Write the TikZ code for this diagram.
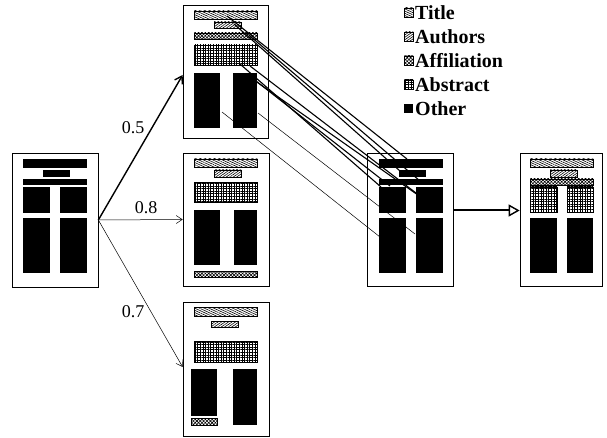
\documentclass[tikz,border=0pt]{standalone}
\usepackage{fontspec}
\setmainfont{Liberation Serif}
\usetikzlibrary{patterns,patterns.meta,arrows.meta}

\tikzset{
  page/.style={draw, line width=0.7pt, minimum width=86pt, minimum height=134pt, inner sep=0pt},
  titlefill/.style={draw, line width=0.5pt, pattern={Lines[angle=-25,distance=2pt,line width=0.6pt]}},
  authorfill/.style={draw, line width=0.5pt, pattern={Lines[angle=35,distance=2pt,line width=0.6pt]}},
  afffill/.style={draw, line width=0.5pt, pattern={Hatch[angle=45,distance=2.4pt,line width=0.6pt]}},
  abstractfill/.style={draw, line width=0.5pt, pattern={Hatch[angle=0,distance=2.6pt,line width=0.5pt]}},
  otherfill/.style={fill=black},
  link/.style={line width=1.1pt},
  thinlink/.style={line width=0.5pt},
  weight/.style={font=\fontsize{18}{21}\selectfont, inner sep=1pt},
  legend/.style={anchor=west, font=\bfseries\fontsize{20}{23}\selectfont, inner sep=1pt},
}

\begin{document}
\begin{tikzpicture}[x=1pt,y=-1pt]
\useasboundingbox (0,0) rectangle (607,438);

% pages
\node[page] (src) at (55,220) {};
\node[page, minimum width=85pt, minimum height=133pt] (p1) at (225.5,71.5) {};
\node[page, minimum height=133pt] (p2) at (226,219.5) {};
\node[page] (p3) at (226,369.5) {};
\node[page, minimum height=133pt] (mrg) at (410.5,219.5) {};
\node[page, minimum width=82pt, minimum height=133pt] (out) at (561,219.5) {};

% input page and merged page share one layout
\foreach \dx in {0,356} {
  \fill (23+\dx,159) rectangle (87+\dx,168);
  \fill (43+\dx,170) rectangle (70+\dx,177);
  \fill (23+\dx,179) rectangle (87+\dx,185);
  \fill (23+\dx,187) rectangle (50+\dx,213);
  \fill (60+\dx,187) rectangle (87+\dx,213);
  \fill (23+\dx,218) rectangle (50+\dx,273);
  \fill (60+\dx,218) rectangle (87+\dx,273);
}

% candidate 1
\draw[titlefill] (194,11) rectangle (257,19);
\draw[authorfill] (214,22) rectangle (241,28);
\draw[afffill] (194,33) rectangle (257,39);
\draw[abstractfill] (194,45) rectangle (257,65);
\fill[otherfill] (194,73) rectangle (220,128);
\fill[otherfill] (233,73) rectangle (257,128);

% candidate 2
\draw[titlefill] (194,159) rectangle (257,167);
\draw[authorfill] (214,170) rectangle (241,177);
\draw[abstractfill] (194,182) rectangle (257,202);
\fill[otherfill] (194,210) rectangle (220,265);
\fill[otherfill] (234,210) rectangle (257,265);
\draw[afffill] (194,271) rectangle (257,277);

% candidate 3
\draw[titlefill] (194,307) rectangle (257,316);
\draw[authorfill] (211,321) rectangle (238,327);
\draw[abstractfill] (194,341) rectangle (257,362);
\fill[otherfill] (191,369) rectangle (217,416);
\fill[otherfill] (233,369) rectangle (257,425);
\draw[afffill] (191,418) rectangle (217,425);

% labelled result
\draw[titlefill] (530,159) rectangle (593,167);
\draw[authorfill] (550,170) rectangle (577,177);
\draw[afffill] (530,179) rectangle (593,185);
\draw[abstractfill] (530,187) rectangle (557,212);
\draw[abstractfill] (567,187) rectangle (593,212);
\fill[otherfill] (530,218) rectangle (557,273);
\fill[otherfill] (567,218) rectangle (593,273);

% scored alignments
\draw[line width=1.4pt, -{Straight Barb[length=7pt,width=9pt]}] (src.east) -- ([yshift=-3.5pt]p1.west);
\draw[line width=0.5pt, -{Straight Barb[length=6pt,width=8pt]}] (src.east) -- (p2.west);
\draw[line width=0.5pt, -{Straight Barb[length=6pt,width=8pt]}] (src.east) -- ([yshift=2.5pt]p3.west);
\node[weight] (w1) at (133,128) {0.5};
\node[weight] (w2) at (146,208) {0.8};
\node[weight] (w3) at (133,312) {0.7};

% region correspondences
\coordinate (a1) at (227,16);  \coordinate (b1) at (407,159);
\coordinate (a2) at (234,24);  \coordinate (b2) at (400,171);
\coordinate (a3) at (250,36);  \coordinate (b3) at (420,181);
\coordinate (a4) at (240,64);  \coordinate (b4) at (381,187);
\coordinate (a5) at (250,66);  \coordinate (b5) at (416,193);
\coordinate (a6) at (247,74);  \coordinate (b6) at (390,186);
\coordinate (a7) at (254,80);  \coordinate (b7) at (425,200);
\coordinate (a8) at (222,112); \coordinate (b8) at (380,237);
\coordinate (a9) at (258,113); \coordinate (b9) at (415,234);
\foreach \i in {1,...,7} \draw[link] (a\i) -- (b\i);
\foreach \i in {8,9} \draw[thinlink] (a\i) -- (b\i);

\draw[line width=2pt, -{Triangle[open,length=11pt,width=12pt,line width=1.4pt]}] ([yshift=9pt]mrg.east) -- ([yshift=9pt]out.west);

% legend
\draw[titlefill] (404,8) rectangle (413,17);
\node[legend] (lg1) at (414,13) {Title};
\draw[authorfill] (404,32) rectangle (413,41);
\node[legend] (lg2) at (414,37) {Authors};
\draw[afffill] (404,56) rectangle (413,65);
\node[legend] (lg3) at (414,61) {Affiliation};
\draw[abstractfill] (404,80) rectangle (413,89);
\node[legend] (lg4) at (414,85) {Abstract};
\fill[otherfill] (404,104) rectangle (413,113);
\node[legend] (lg5) at (414,109) {Other};
\end{tikzpicture}
\end{document}
